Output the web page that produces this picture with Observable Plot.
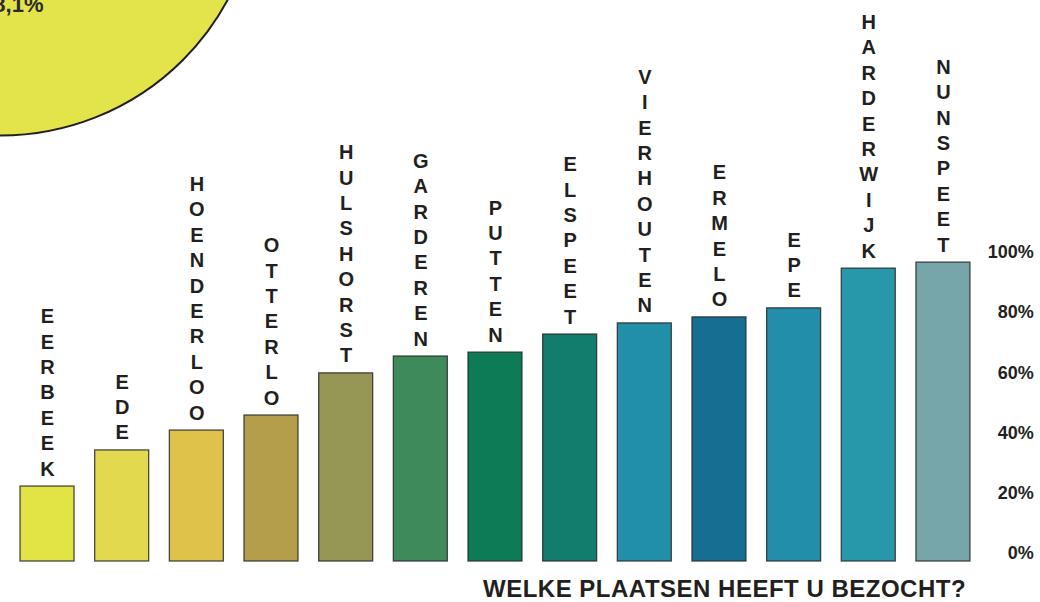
<!DOCTYPE html>
<html>
<head>
<meta charset="utf-8">
<script src="https://cdn.jsdelivr.net/npm/d3@7"></script>
<script src="https://cdn.jsdelivr.net/npm/@observablehq/plot@0.6"></script>
<style>
  html, body { margin: 0; padding: 0; background: #fff; }
  #wrap { position: relative; width: 1040px; height: 602px; overflow: hidden; }
  #title {
    position: absolute; left: 483px; top: 577px;
    font-family: "Liberation Sans", Arial, sans-serif; font-weight: bold;
    font-size: 24px; line-height: 24px; letter-spacing: 0.5px; color: #231f20;
    white-space: nowrap;
  }
</style>
</head>
<body>
<div id="wrap">
  <div id="chart"></div>
  <div id="title"></div>
</div>
<script>
// ---- data ----
const places = ["EERBEEK", "EDE", "HOENDERLOO", "OTTERLO", "HULSHORST", "GARDEREN", "PUTTEN",
                "ELSPEET", "VIERHOUTEN", "ERMELO", "EPE", "HARDERWIJK", "NUNSPEET"];
const visited = [24.9, 36.9, 43.5, 48.5, 62.5, 68.1, 69.4, 75.4, 79.1, 81.1, 84.1, 97.3, 99.3];
const barColors = ["#e2e345", "#e3d94f", "#dfc24a", "#b49d4b", "#969655", "#3f8a5b", "#0d7b56",
                   "#127c6d", "#228fa8", "#166f93", "#228ea9", "#2698a9", "#76a6aa"];
const yTicks = [0, 20, 40, 60, 80, 100];
const circleLabel = "58,1%";
const titleText = "WELKE PLAATSEN HEEFT U BEZOCHT?";

// ---- chart ----
const data = places.map((p, i) => ({place: p, value: visited[i], color: barColors[i]}));
const mL = 9.67, mT = 260, mR = 59.7, mB = 11;
const ink = "#231f20";

const chart = Plot.plot({
  width: 1040,
  height: 572,
  marginLeft: mL,
  marginRight: mR,
  marginTop: mT,
  marginBottom: mB,
  style: {fontFamily: "'Liberation Sans', Arial, sans-serif", fontWeight: "bold", color: ink},
  x: {domain: places, paddingInner: 0.277, paddingOuter: 0.139, round: false, axis: null},
  y: {domain: [0, 100], axis: null},
  marks: [
    Plot.dot([circleLabel], {frameAnchor: "top-left", dx: -mL, dy: -123 - mT, r: 258,
      fill: "#e3e44a", stroke: "#231f20", strokeWidth: 2}),
    Plot.text([circleLabel], {frameAnchor: "top-left", text: d => d, textAnchor: "end",
      lineAnchor: "bottom", dx: 43 - mL, dy: 11 - mT, fontSize: 22, fill: "#2b2b2b"}),
    Plot.barY(data, {x: "place", y: "value", fill: "color", stroke: "#2a2a2a",
      strokeWidth: 1.3, strokeOpacity: 0.85}),
    Plot.text(data, {x: "place", y: "value", text: d => d.place.split("").join("\n"),
      lineAnchor: "bottom", dy: -11, fontSize: 20, lineHeight: 1.27, fill: ink}),
    Plot.axisY(yTicks, {anchor: "right", tickSize: 0, tickPadding: 3, textAnchor: "end",
      dx: 50, dy: -8, fontSize: 18, fill: ink, tickFormat: d => d + "%", label: null})
  ]
});
document.getElementById("chart").appendChild(chart);
document.getElementById("title").textContent = titleText;
</script>
</body>
</html>
